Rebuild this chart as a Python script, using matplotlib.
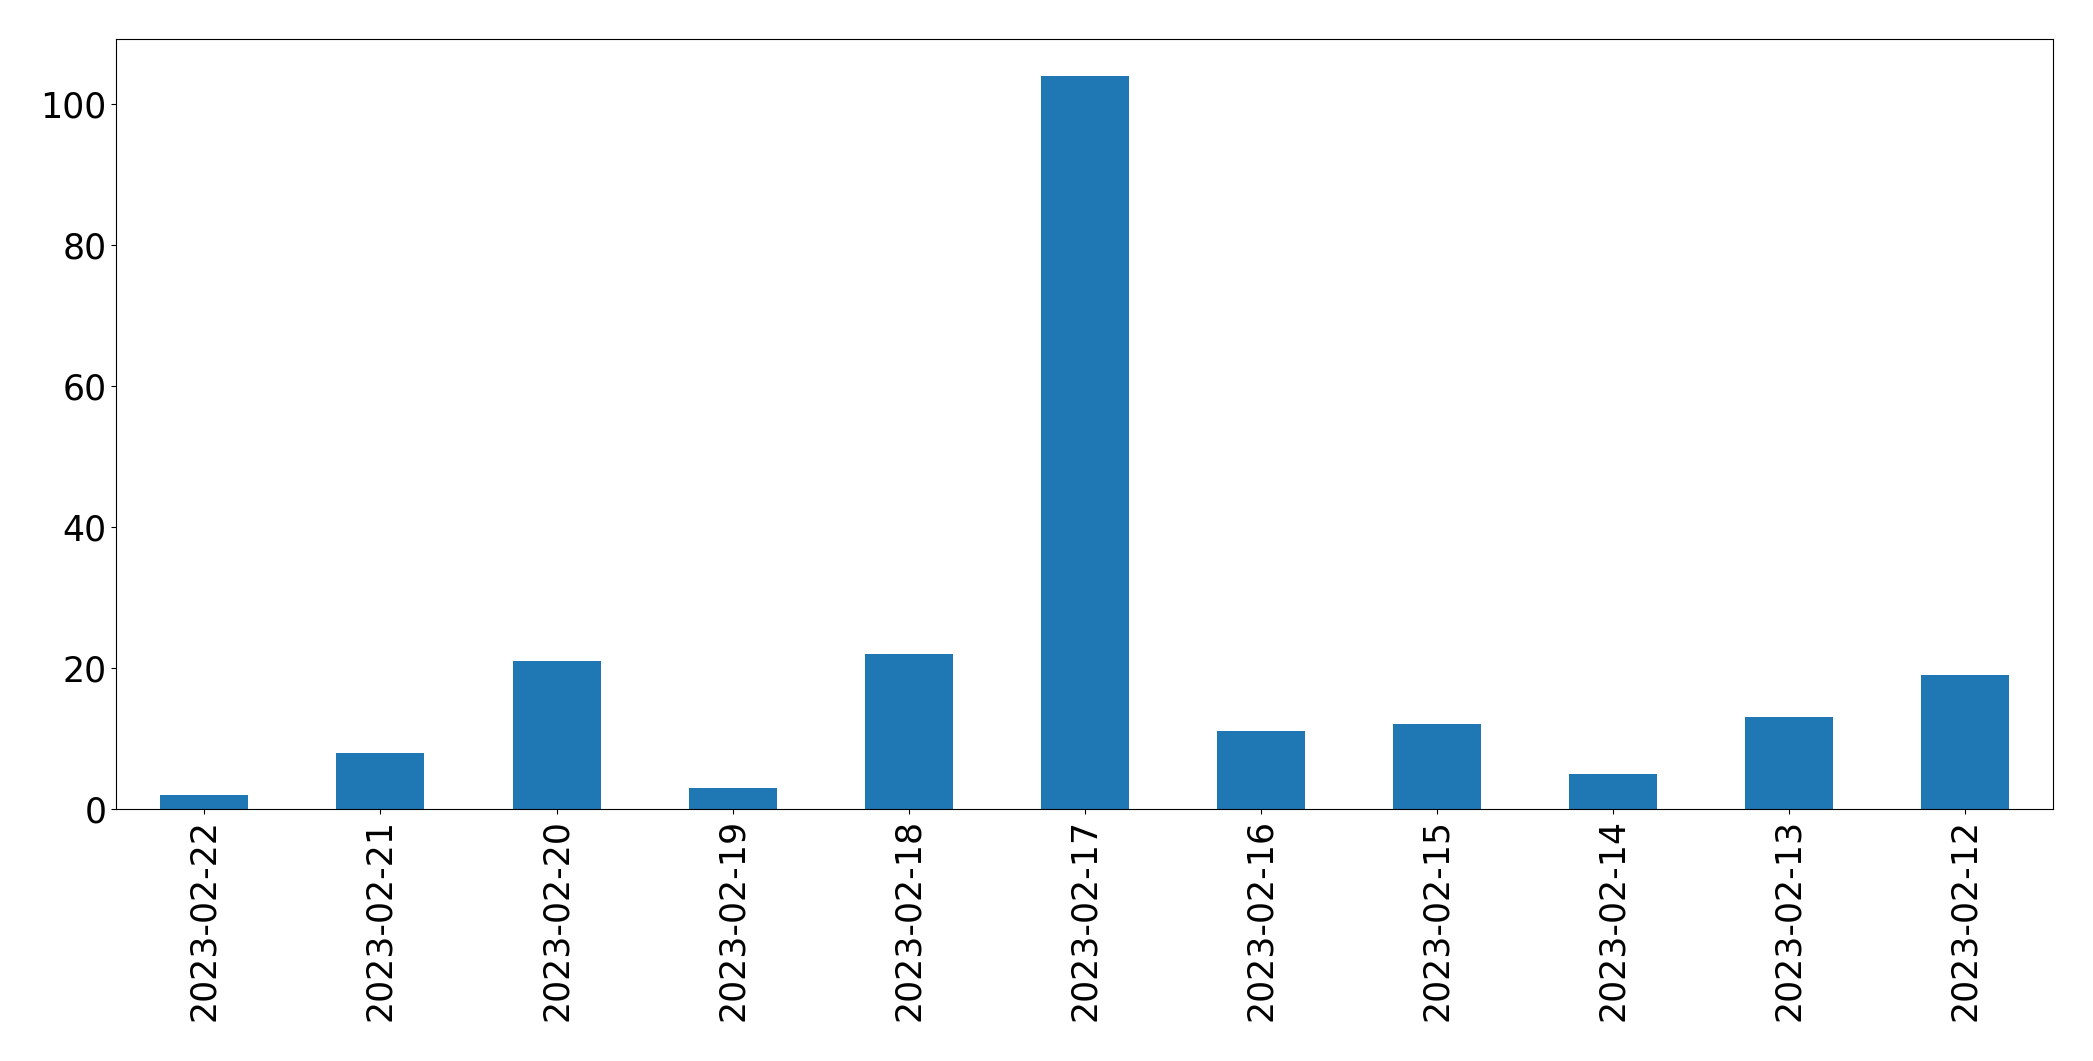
import matplotlib
matplotlib.use("Agg")
import matplotlib.pyplot as plt

dates = ["2023-02-22", "2023-02-21", "2023-02-20", "2023-02-19", "2023-02-18",
         "2023-02-17", "2023-02-16", "2023-02-15", "2023-02-14", "2023-02-13",
         "2023-02-12"]
counts = [2, 8, 21, 3, 22, 104, 11, 12, 5, 13, 19]

fig = plt.figure(figsize=(20.93, 10.61), dpi=100)
ax = fig.add_axes([0.0556, 0.2375, 0.9253, 0.7255])
x = list(range(len(dates)))
ax.bar(x, counts, width=0.5, color="#1f77b4")
ax.set_xticks(x)
ax.set_xticklabels(dates, rotation=90)
ax.set_xlim(-0.5, len(dates) - 0.5)
ax.set_ylim(0, max(counts) * 1.05)
ax.tick_params(labelsize=25)
fig.savefig("out.png", dpi=100)
